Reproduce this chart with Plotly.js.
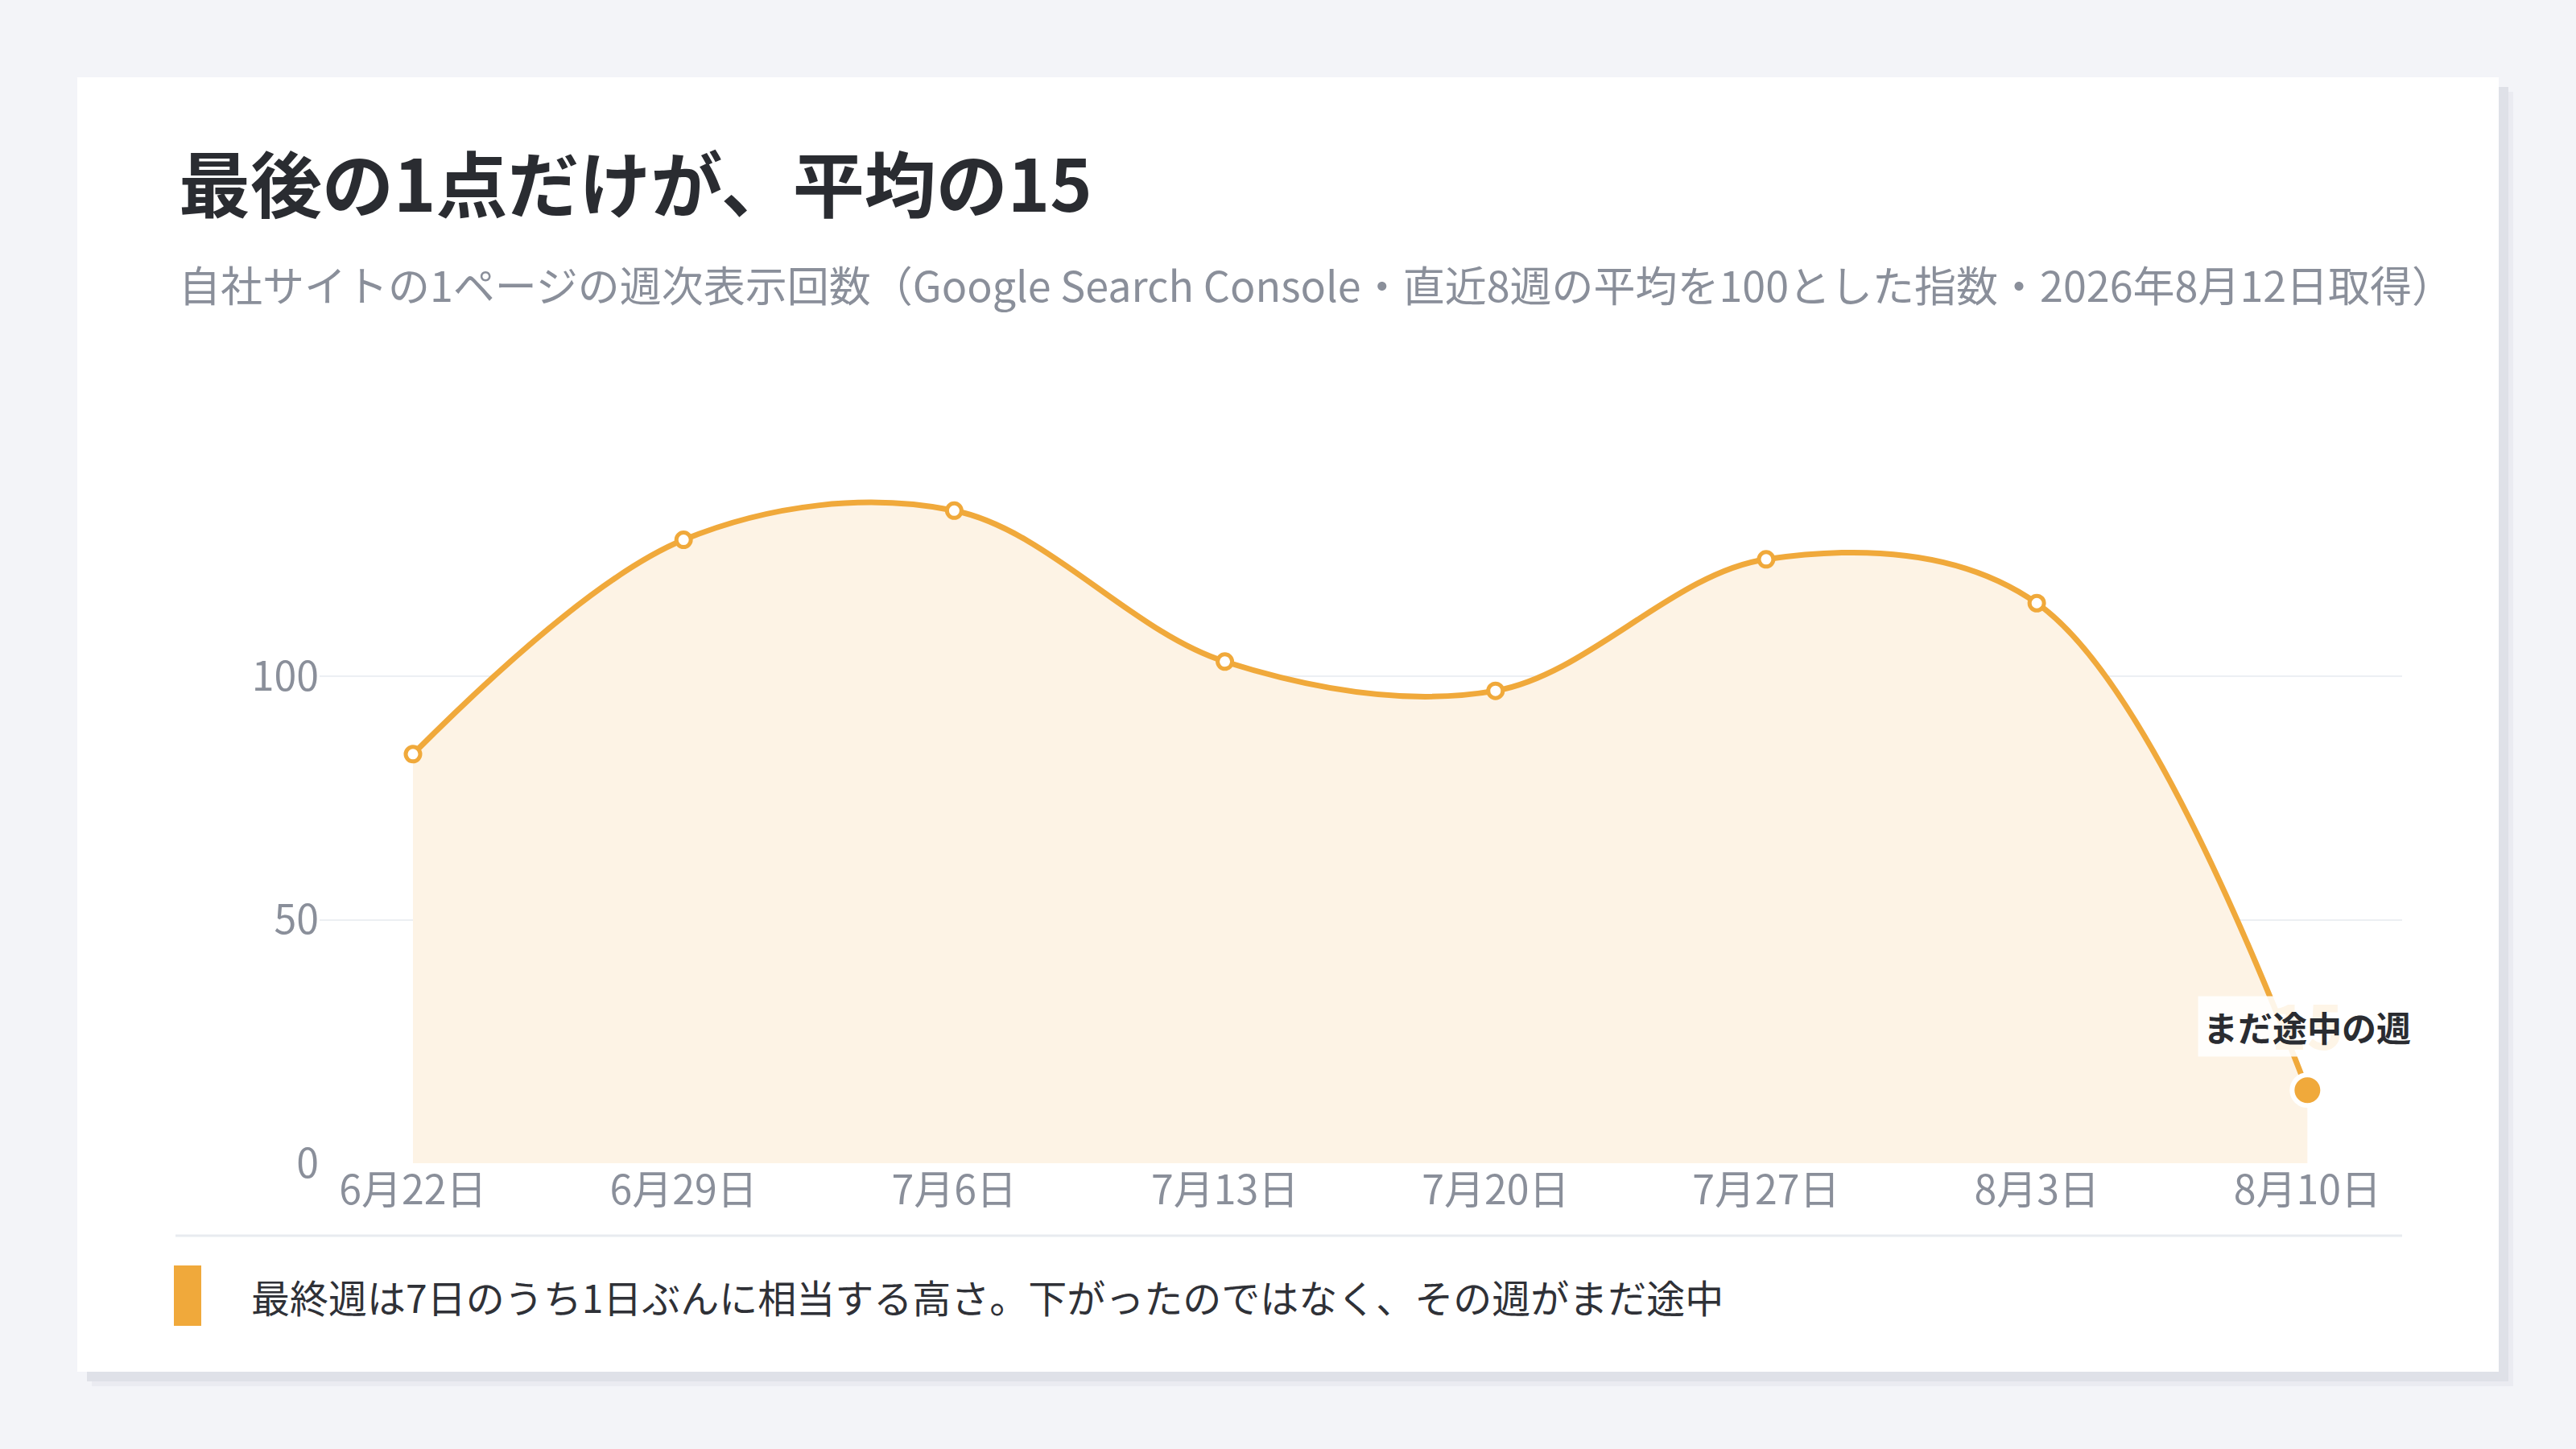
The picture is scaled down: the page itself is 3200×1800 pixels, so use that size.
<!DOCTYPE html>
<html lang="ja">
<head>
<meta charset="utf-8">
<script src="https://cdn.plot.ly/plotly-3.0.1.min.js"></script>
<style>
   html, body { margin: 0; padding: 0; background: #f3f4f8; }
   #plot { width: 3200px; height: 1800px; }
</style>
</head>
<body>
<div id="plot"></div>
<script>
// weekly impressions index, avg of last 8 weeks = 100
var weeks = ['6月22日', '6月29日', '7月6日', '7月13日', '7月20日', '7月27日', '8月3日', '8月10日']
var index_values = [84, 128, 134, 103, 97, 124, 115, 15]
var y_tick_vals = [0, 50, 100]
var y_tick_text = ['0', '50', '100']

var title_text = '最後の1点だけが、平均の15'
var subtitle_text = '自社サイトの1ページの週次表示回数（Google Search Console・直近8週の平均を100とした指数・2026年8月12日取得）'
var note_text = '最終週は7日のうち1日ぶんに相当する高さ。下がったのではなく、その週がまだ途中'
var partial_label = 'まだ途中の週'
var partial_value_label = '15'

var font_family = '"Noto Sans CJK JP", "Noto Sans", sans-serif'
var orange = '#f0a93b'
var gray_text = '#8a8f9a'
var dark_text = '#2a2c31'

// page pixels -> paper coords (plot area is 397..2984 x 560..1445)
var plot_l = 397, plot_r = 2984, plot_t = 560, plot_b = 1445
function fx(px) { return (px - plot_l) / (plot_r - plot_l) }
function fy(py) { return (plot_b - py) / (plot_b - plot_t) }

var last = index_values.length - 1

var area_trace = {
   x: weeks,
   y: index_values,
   mode: 'lines',
   line: {color: orange, width: 7, shape: 'spline', smoothing: 1},
   fill: 'tozeroy',
   fillcolor: '#fdf3e5',
   hoverinfo: 'skip',
   showlegend: false
}
var points_trace = {
   x: weeks.slice(0, last),
   y: index_values.slice(0, last),
   mode: 'markers',
   marker: {size: 18, color: '#ffffff', line: {color: orange, width: 5}},
   hoverinfo: 'skip',
   showlegend: false
}
var last_trace = {
   x: [weeks[last]],
   y: [index_values[last]],
   mode: 'markers',
   marker: {size: 38, color: orange, line: {color: '#ffffff', width: 6}},
   hoverinfo: 'skip',
   showlegend: false
}

var layout = {
   width: 3200,
   height: 1800,
   margin: {l: plot_l, r: 3200 - plot_r, t: plot_t, b: 1800 - plot_b, pad: 0},
   paper_bgcolor: '#f3f4f8',
   plot_bgcolor: 'rgba(0,0,0,0)',
   font: {family: font_family, color: gray_text, size: 50},
   showlegend: false,
   hovermode: false,
   xaxis: {
      type: 'category',
      range: [-0.345, 7.35],
      showgrid: false,
      zeroline: false,
      showline: false,
      ticks: '',
      tickfont: {family: font_family, size: 50, color: gray_text},
      fixedrange: true
   },
   yaxis: {
      range: [0, (plot_b - plot_t) / 6.05],
      tickmode: 'array',
      tickvals: y_tick_vals,
      ticktext: y_tick_text,
      showgrid: true,
      gridcolor: '#eceff3',
      gridwidth: 2,
      zeroline: true,
      zerolinecolor: 'rgba(255,255,255,0)',
      showline: false,
      ticks: '',
      tickfont: {family: font_family, size: 50, color: gray_text},
      fixedrange: true
   },
   shapes: [
      // card shadow
      {type: 'rect', xref: 'paper', yref: 'paper', layer: 'below',
         x0: fx(114), x1: fx(3122), y0: fy(1722), y1: fy(114),
         fillcolor: '#eaebf1', line: {width: 0}},
      {type: 'rect', xref: 'paper', yref: 'paper', layer: 'below',
         x0: fx(108), x1: fx(3116), y0: fy(1716), y1: fy(108),
         fillcolor: '#dfe1e8', line: {width: 0}},
      // card
      {type: 'rect', xref: 'paper', yref: 'paper', layer: 'below',
         x0: fx(96), x1: fx(3104), y0: fy(1704), y1: fy(96),
         fillcolor: '#ffffff', line: {width: 0}},
      // divider
      {type: 'line', xref: 'paper', yref: 'paper', layer: 'below',
         x0: fx(218), x1: fx(2984), y0: fy(1535), y1: fy(1535),
         line: {color: '#e8ebf0', width: 3}},
      // note marker
      {type: 'rect', xref: 'paper', yref: 'paper', layer: 'below',
         x0: fx(216), x1: fx(250), y0: fy(1647), y1: fy(1572),
         fillcolor: orange, line: {width: 0}}
   ],
   annotations: [
      {text: '<b>' + title_text + '</b>', xref: 'paper', yref: 'paper',
         x: fx(220), y: fy(224), xanchor: 'left', yanchor: 'middle', showarrow: false,
         font: {family: font_family, size: 89, color: dark_text}},
      {text: subtitle_text, xref: 'paper', yref: 'paper',
         x: fx(220), y: fy(353), xanchor: 'left', yanchor: 'middle', showarrow: false,
         font: {family: font_family, size: 52, color: gray_text}},
      {text: note_text, xref: 'paper', yref: 'paper',
         x: fx(310), y: fy(1610), xanchor: 'left', yanchor: 'middle', showarrow: false,
         font: {family: font_family, size: 48, color: '#2f3137'}},
      {text: '<b>' + partial_value_label + '</b>', x: weeks[last], y: index_values[last],
         yshift: 83, showarrow: false,
         font: {family: font_family, size: 76, color: orange}},
      {text: '<b>' + partial_label + '</b>', x: weeks[last], y: index_values[last],
         yshift: 79, showarrow: false, bgcolor: 'rgba(255,255,255,0.88)', borderpad: 6,
         font: {family: font_family, size: 43, color: dark_text}}
   ]
}

Plotly.newPlot('plot', [area_trace, points_trace, last_trace], layout, {staticPlot: true, displayModeBar: false})
</script>
</body>
</html>
